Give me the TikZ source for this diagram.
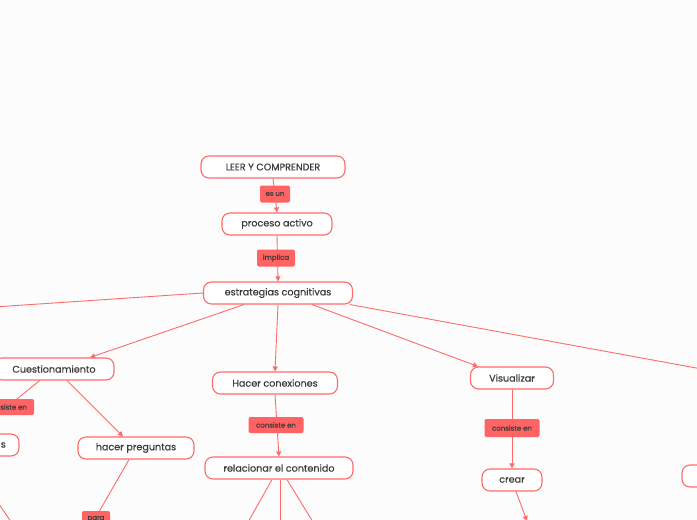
\documentclass[tikz,border=0pt]{standalone}
\usepackage{fontspec}
\setmainfont{Poppins}[FakeBold=0.6]
\usetikzlibrary{arrows.meta}
\definecolor{cRed}{RGB}{255,107,107}
\definecolor{cLab}{RGB}{255,99,99}
\definecolor{cText}{RGB}{60,60,60}
\definecolor{cBg}{RGB}{252,252,252}
\tikzset{
  concept/.style={draw=cRed, line width=1.1pt, rounded corners=8pt, fill=white,
    text=cText, font=\fontsize{9.6}{10}\selectfont, minimum height=22pt, inner sep=0pt},
  lab/.style={fill=cLab, rounded corners=2pt, text=cText,
    font=\fontsize{7}{7}\selectfont, minimum height=16pt, inner sep=0pt},
  conn/.style={draw=cRed, line width=0.9pt},
  arr/.style={conn, -{Triangle[length=5pt,width=5pt]}},
}
\begin{document}
\begin{tikzpicture}[x=1pt,y=-1pt]
\fill[cBg] (0,0) rectangle (697,520);
\useasboundingbox (0,0) rectangle (697,520);
\clip (0,0) rectangle (697,520);
% concepts
\node[concept, minimum width=144pt] (leer) at (273,167) {LEER Y COMPRENDER};
\node[concept, minimum width=110pt] (proc) at (277,224) {proceso activo};
\node[concept, minimum width=149pt] (estr) at (278,293) {estrategias cognitivas};
\node[concept, minimum width=120pt] (cues) at (54,369) {Cuestionamiento};
\node[concept, minimum width=118pt] (snode) at (-40,445) {};
\node[text=cText, font=\fontsize{9.6}{10}\selectfont, anchor=east, inner sep=0pt] (stext) at (6,445) {s};
\node[concept, minimum width=116pt] (preg) at (136,448) {hacer preguntas};
\node[concept, minimum width=125pt] (conx) at (275,383) {Hacer conexiones};
\node[concept, minimum width=148pt] (rela) at (279,468) {relacionar el contenido};
\node[concept, minimum width=83pt] (visu) at (512,378) {Visualizar};
\node[concept, minimum width=60pt] (crear) at (512,480) {crear};
\node[concept, minimum width=100pt] (rnode) at (732,476) {};
% off-picture ends
\coordinate (offL) at (-200,320);
\coordinate (offR) at (800,387);
\coordinate (offS) at (30,550);
\coordinate (offP) at (80,545);
\coordinate (offC) at (527,521);
\coordinate (offA) at (238,540);
\coordinate (offB) at (280,540);
\coordinate (offD) at (324,540);
% connectors
\draw[arr] (leer.south) -- (proc.north);
\draw[arr] (proc.south) -- (estr.north);
\draw[conn] (estr.west) -- (offL);
\draw[arr] (estr.south -| 244,0) -- (cues.north -| 90,0);
\draw[arr] (estr.south) -- (conx.north);
\draw[arr] (estr.south -| 312,0) -- (visu.north -| 478,0);
\draw[conn] (estr.south east) ++(-3,0) -- (offR);
\draw[conn] (cues) -- (snode);
\draw[arr] (cues.south -| 67,0) -- (preg.north -| 123,0);
\draw[conn] (snode.south -| -33,0) -- (offS);
\draw[conn] (preg.south -| 129,0) -- (offP);
\draw[arr] (conx.south) -- (rela.north);
\draw[conn] (rela.south -| 272,0) -- (offA);
\draw[conn] (rela.south -| 280,0) -- (offB);
\draw[conn] (rela.south -| 287,0) -- (offD);
\draw[arr] (visu.south) -- (crear.north);
\draw[arr] (crear.south -| 516,0) -- (offC);
% labels
\node[lab, minimum width=30pt, minimum height=17pt] (l1) at (275,194) {es un};
\node[lab, minimum width=38pt, minimum height=17pt] (l2) at (276,258) {implica};
\node[lab, minimum width=54pt] (l3) at (7,407) {consiste en};
\node[lab, minimum width=55pt] (l4) at (276,425) {consiste en};
\node[lab, minimum width=55pt, minimum height=18pt] (l5) at (512,428) {consiste en};
\node[lab, minimum width=28pt] (l6) at (96,519) {para};
\end{tikzpicture}
\end{document}
